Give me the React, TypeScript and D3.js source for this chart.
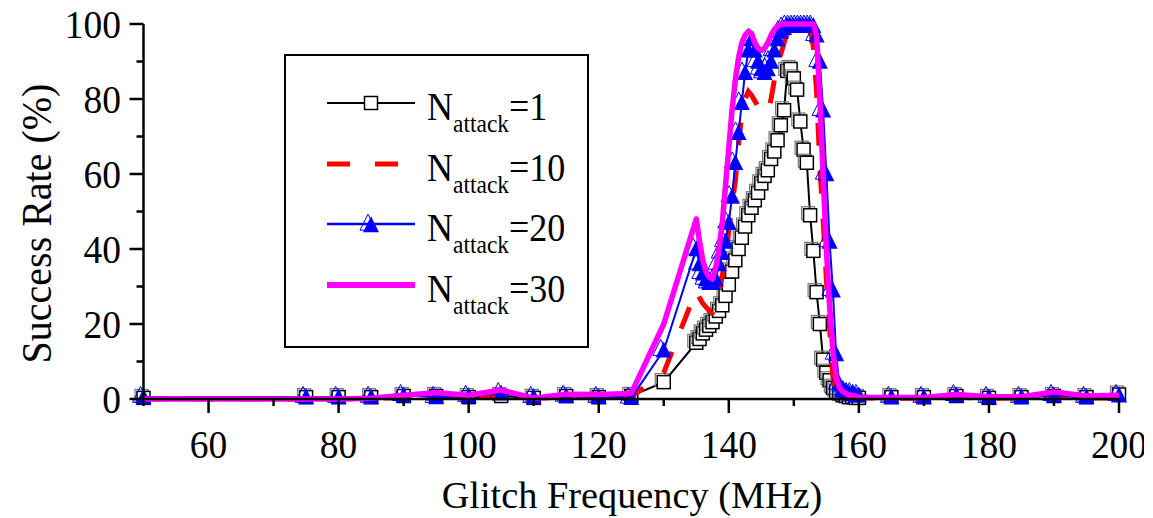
import React from "react";
import * as d3 from "d3";

// glitch frequency sample points (MHz)
const freq = [
  50, 75, 80, 85, 90, 95, 100, 105, 110, 115, 120, 125, 130,
  135, 135.5, 136, 136.5, 137, 137.5, 138, 138.5, 139, 139.5, 140, 140.5,
  141, 141.5, 142, 142.5, 143, 143.5, 144, 144.5, 145, 145.5, 146, 146.5,
  147, 147.5, 148, 148.5, 149, 149.5, 150, 150.5, 151, 151.5, 152, 152.5,
  153, 153.5, 154, 154.5, 155, 155.5, 156, 156.5, 157, 157.5, 158, 158.5,
  159, 159.5, 160,
  165, 170, 175, 180, 185, 190, 195, 200,
];

// success rate (%) per attack count
const rate1 = [
  0.3, 0.5, 0.5, 0.5, 0.8, 0.8, 0.5, 0.8, 0.3, 0.8, 0.5, 0.8, 4.5,
  15, 16, 17.5, 18.5, 19.5, 20.5, 22, 23.5, 25, 27.5, 30.5, 34,
  37, 40, 43, 46, 49, 51, 53, 55, 57.5, 59.5, 61, 64,
  66, 69, 73, 77, 87.5, 88, 85.5, 82.5, 74, 66.5, 63, 49,
  39.5, 28.5, 20, 10.5, 7, 5, 3, 2, 1.5, 1, 0.8, 0.5,
  0.5, 0.3, 0.3,
  0.5, 0.5, 0.8, 0.3, 0.5, 0.8, 0.5, 1.2,
];
const rate10 = [
  0, 0, 0, 0.2, 0.3, 0.5, 0.3, 0.8, 0.2, 0.5, 0.3, 0.5, 7,
  29, 27, 25.5, 24.5, 23.5, 23, 24, 28, 33, 37, 45, 52,
  58, 68, 76, 80, 82, 81, 79.5, 78, 77, 76, 76.5, 80,
  85, 89, 92, 95, 97.5, 99, 99, 99, 99, 99, 99, 98.5,
  94, 82, 62, 48, 32, 19, 6, 2, 1, 0.8, 0.5, 0.5,
  0.3, 0.3, 0.3,
  0.2, 0.2, 0.5, 0.2, 0.3, 0.5, 0.3, 0.3,
];
const rate20 = [
  0.5, 0.5, 0.5, 0.5, 1, 0.5, 0.8, 1.5, 0.5, 0.8, 0.5, 0.3, 13,
  40, 36, 33.5, 32, 31, 31, 32, 36, 39, 42, 47, 54,
  63, 71, 79, 87, 93, 96, 93, 90, 88, 87, 88, 90,
  93, 96, 98, 99, 99.5, 99.5, 99.5, 99.5, 99.5, 99.5, 99.5, 99.5,
  99.5, 97, 90, 77, 60, 42, 29, 12, 4, 2.5, 2, 1.5,
  1.5, 1, 1,
  0.5, 0.5, 1, 0.5, 0.5, 1, 0.5, 1,
];
const rate30 = [
  0, 0, 0, 0.2, 1, 1.7, 1, 2.4, 0.2, 1.3, 1.2, 1.5, 20,
  48, 42, 37, 34, 32.5, 32, 35, 40, 47, 57, 67, 77,
  85, 91, 95, 97, 98, 97.5, 95, 93.5, 93, 93.5, 95, 97,
  98.5, 99.5, 100, 100, 100, 100, 100, 100, 100, 100, 100, 100,
  100, 97, 80, 60, 40, 25, 13, 6, 3, 2, 1.5, 1,
  1, 0.8, 0.5,
  0.4, 0.4, 1.2, 0.6, 0.6, 1.9, 0.8, 1,
];

const seriesNames = ["1", "10", "20", "30"];

const xMajor = [60, 80, 100, 120, 140, 160, 180, 200];
const xMinor = [50, 70, 90, 110, 130, 150, 170, 190];
const yMajor = [0, 20, 40, 60, 80, 100];
const yMinor = [10, 30, 50, 70, 90];

const FONT = "'Liberation Serif', 'Times New Roman', serif";

const T = ({ x, y, size = 36, sy = 1.1, anchor = "start", rotate = 0, children }: any) => (
  <text
    transform={`translate(${x},${y}) rotate(${rotate}) scale(1,${sy})`}
    fontFamily={FONT}
    fontSize={size}
    textAnchor={anchor}
    fill="#000"
  >
    {children}
  </text>
);

const tri = (cx: number, cy: number, s: number) =>
  `M${cx},${cy - s * 0.55} L${cx + s / 2},${cy + s * 0.45} L${cx - s / 2},${cy + s * 0.45} Z`;

const Square = ({ cx, cy }: any) => (
  <g>
    <rect x={cx - 8.5} y={cy - 8.5} width={13} height={13} fill="none" stroke="#777" strokeWidth={1.2} />
    <rect x={cx - 6.5} y={cy - 6.5} width={13} height={13} fill="#fff" stroke="#000" strokeWidth={1.5} />
  </g>
);

const Triangle = ({ cx, cy }: any) => (
  <g>
    <path d={tri(cx - 3, cy - 2, 16)} fill="none" stroke="#0000ff" strokeWidth={1} />
    <path d={tri(cx, cy, 16)} fill="#0000ff" />
  </g>
);

export default function App() {
  const width = 1153;
  const height = 518;
  const x = d3.scaleLinear().domain([50, 200]).range([143.5, 1119]);
  const y = d3.scaleLinear().domain([0, 100]).range([399, 24]);

  const line = (vals: number[]) =>
    d3.line<number>().x((_, i) => x(freq[i])).y((d) => y(d))(vals) as string;

  const legendRows = [103, 164, 224, 285];

  return (
    <svg width={width} height={height} style={{ position: "absolute", left: 0, top: 0, background: "#fff" }}>
      {/* series */}
      <path d={line(rate1)} fill="none" stroke="#000" strokeWidth={2} />
      {rate1.map((d, i) => (
        <Square key={"s" + i} cx={x(freq[i])} cy={y(d)} />
      ))}
      <path d={line(rate10)} fill="none" stroke="#ff0000" strokeWidth={5} strokeDasharray="23,25" />
      <path d={line(rate20)} fill="none" stroke="#0000ff" strokeWidth={2} />
      {rate20.map((d, i) => (
        <Triangle key={"t" + i} cx={x(freq[i])} cy={y(d)} />
      ))}
      <path d={line(rate30)} fill="none" stroke="#ff00ff" strokeWidth={5.5} strokeLinejoin="round" />

      {/* axes */}
      <line x1={x(50)} x2={x(200)} y1={y(0)} y2={y(0)} stroke="#000" strokeWidth={2.5} />
      <line x1={x(50)} x2={x(50)} y1={y(0) + 1} y2={y(100)} stroke="#000" strokeWidth={2.5} />
      {xMajor.map((t) => (
        <g key={"xm" + t}>
          <line x1={x(t)} x2={x(t)} y1={y(0)} y2={y(0) + 14} stroke="#000" strokeWidth={2.5} />
          <T x={x(t)} y={458} size={37.5} sy={1.07} anchor="middle">{t}</T>
        </g>
      ))}
      {xMinor.map((t) => (
        <line key={"xn" + t} x1={x(t)} x2={x(t)} y1={y(0)} y2={y(0) + 7} stroke="#000" strokeWidth={2.5} />
      ))}
      {yMajor.map((t) => (
        <g key={"ym" + t}>
          <line x1={x(50) - 14} x2={x(50)} y1={y(t)} y2={y(t)} stroke="#000" strokeWidth={2.5} />
          <T x={121} y={y(t) + 14} size={37.5} sy={1.07} anchor="end">{t}</T>
        </g>
      ))}
      {yMinor.map((t) => (
        <line key={"yn" + t} x1={x(50) - 7} x2={x(50)} y1={y(t)} y2={y(t)} stroke="#000" strokeWidth={2.5} />
      ))}

      <T x={632} y={508} size={38.3} sy={1} anchor="middle">Glitch Frequency (MHz)</T>
      <T x={50.5} y={223.5} size={40} sy={1.05} anchor="middle" rotate={-90}>Success Rate (%)</T>

      {/* legend */}
      <rect x={285} y={55} width={303} height={292} fill="#fff" stroke="#000" strokeWidth={2} />
      <line x1={327} x2={415} y1={legendRows[0]} y2={legendRows[0]} stroke="#000" strokeWidth={2} />
      <rect x={364.5} y={legendRows[0] - 6.5} width={13} height={13} fill="#fff" stroke="#000" strokeWidth={1.5} />
      <line x1={327} x2={415} y1={legendRows[1]} y2={legendRows[1]} stroke="#ff0000" strokeWidth={5} strokeDasharray="23,25" />
      <line x1={327} x2={415} y1={legendRows[2]} y2={legendRows[2]} stroke="#0000ff" strokeWidth={2.5} />
      <Triangle cx={371} cy={legendRows[2] + 1} />
      <line x1={327} x2={415} y1={legendRows[3]} y2={legendRows[3]} stroke="#ff00ff" strokeWidth={6} />
      {seriesNames.map((n, i) => (
        <T key={"l" + n} x={427} y={legendRows[i] + 17}>
          N
          <tspan fontSize={23.5} dy={11}>attack</tspan>
          <tspan dy={-11}>={n}</tspan>
        </T>
      ))}
      <rect x={1144} y={0} width={9} height={height} fill="#fff" />
    </svg>
  );
}
